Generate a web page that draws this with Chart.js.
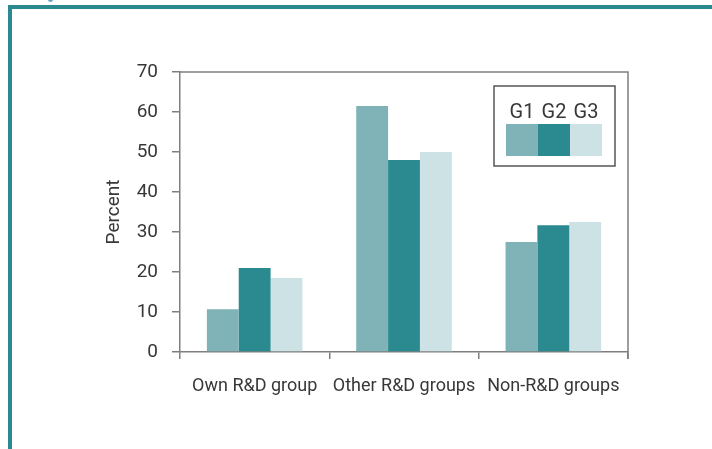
<!DOCTYPE html>
<html>
<head>
<meta charset="utf-8">
<script src="https://cdn.jsdelivr.net/npm/chart.js@4"></script>
<style>
  html, body { margin: 0; padding: 0; background: #fff; }
  #wrap { position: relative; width: 712px; height: 449px; overflow: hidden; }
  #frame { position: absolute; left: 8px; top: 5px; right: 0; bottom: 0;
           border-top: 4px solid #2a8a8f; border-left: 4px solid #2a8a8f; }
  #dot { position: absolute; left: 48px; top: -2px; width: 5px; height: 4px;
         border-radius: 50%; background: #6aa6bf; }
  canvas { position: absolute; left: 0; top: 0; }
</style>
</head>
<body>
<div id="wrap">
  <div id="frame"></div>
  <div id="dot"></div>
  <canvas id="barChart" width="712" height="449"></canvas>
</div>
<script>
const categories = ["Own R&D group", "Other R&D groups", "Non-R&D groups"];
const groupNames = ["G1", "G2", "G3"];
const g1Values = [10.7, 61.5, 27.5];
const g2Values = [21, 48, 31.7];
const g3Values = [18.5, 50, 32.5];
const groupColors = ["#7fb3b8", "#2a8a8f", "#cde2e5"];

const axisGray = "#7f7f7f";
const textColor = "#383838";

// plot frame (top + right edges) and the boxed legend
const framePlugin = {
  id: "framePlugin",
  afterDraw(chart) {
    const { ctx, chartArea } = chart;
    ctx.save();
    ctx.strokeStyle = axisGray;
    ctx.lineWidth = 1.5;
    ctx.beginPath();
    ctx.moveTo(chartArea.left, chartArea.top);
    ctx.lineTo(chartArea.right, chartArea.top);
    ctx.lineTo(chartArea.right, chartArea.bottom + 7);
    ctx.stroke();

    // legend
    const boxX = 494, boxY = 86, boxW = 121, boxH = 80;
    ctx.fillStyle = "#fff";
    ctx.fillRect(boxX, boxY, boxW, boxH);
    ctx.strokeStyle = "#555";
    ctx.lineWidth = 1.5;
    ctx.strokeRect(boxX, boxY, boxW, boxH);
    const sw = 32;
    const startX = 506;
    ctx.font = "20px Roboto";
    ctx.textAlign = "center";
    ctx.textBaseline = "alphabetic";
    chart.data.datasets.forEach((ds, i) => {
      ctx.fillStyle = ds.backgroundColor;
      ctx.fillRect(startX + i * sw, 124, sw, 32);
      ctx.fillStyle = textColor;
      ctx.fillText(ds.label, startX + i * sw + sw / 2, 118);
    });
    ctx.restore();
  },
};

const data = {
  labels: categories,
  datasets: [
    { label: groupNames[0], data: g1Values, backgroundColor: groupColors[0] },
    { label: groupNames[1], data: g2Values, backgroundColor: groupColors[1] },
    { label: groupNames[2], data: g3Values, backgroundColor: groupColors[2] },
  ],
};

const config = {
  type: "bar",
  data: data,
  options: {
    responsive: false,
    animation: false,
    layout: { padding: { left: 92, top: 72, right: 84, bottom: 0 } },
    datasets: {
      bar: { categoryPercentage: 0.64, barPercentage: 1.0 },
    },
    plugins: {
      legend: { display: false },
      tooltip: { enabled: false },
    },
    scales: {
      x: {
        grid: {
          offset: true,
          drawOnChartArea: false,
          drawTicks: true,
          tickLength: 7,
          color: axisGray,
          lineWidth: 1.5,
        },
        border: { color: axisGray, width: 1.5 },
        ticks: {
          color: textColor,
          font: { family: "Roboto", size: 18 },
          padding: 17,
          maxRotation: 0,
        },
        afterFit(scale) { scale.height = 449 - 352; },
      },
      y: {
        min: 0,
        max: 70,
        grid: {
          drawOnChartArea: false,
          drawTicks: true,
          tickLength: 8,
          color: axisGray,
          lineWidth: 1.5,
        },
        border: { color: axisGray, width: 1.5 },
        ticks: {
          stepSize: 10,
          color: textColor,
          font: { family: "Roboto", size: 19 },
          padding: 14,
        },
        title: {
          display: true,
          text: "Percent",
          color: textColor,
          font: { family: "Roboto", size: 19 },
          padding: { top: 11, bottom: 0 },
        },
        afterFit(scale) { scale.width = 180 - 92; },
      },
    },
  },
  plugins: [framePlugin],
};

const barChart = new Chart(document.getElementById("barChart"), config);
</script>
</body>
</html>
